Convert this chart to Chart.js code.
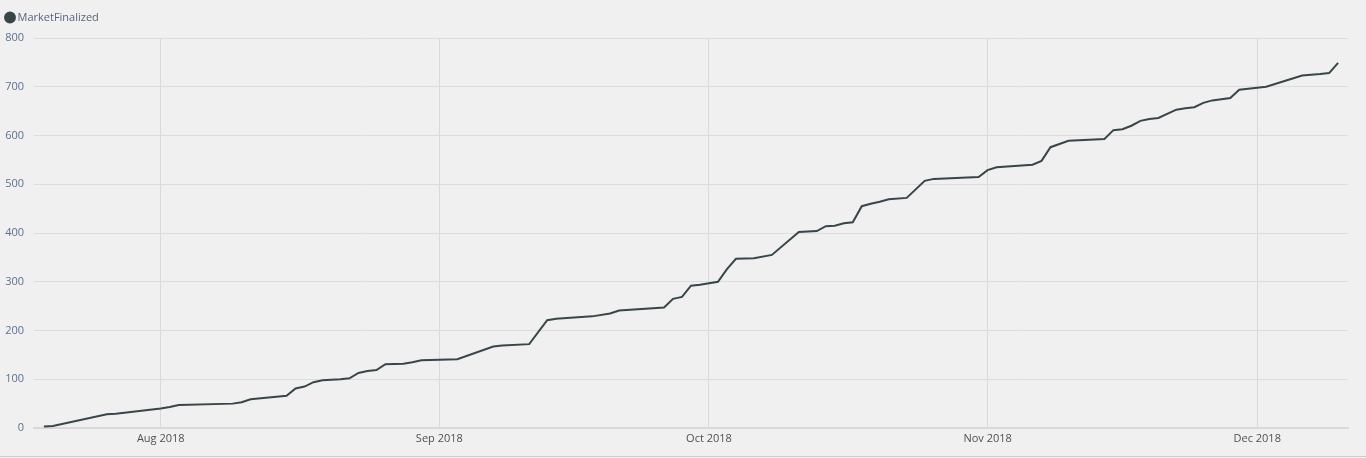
<!DOCTYPE html>
<html lang="en">
<head>
    <meta charset="UTF-8">
    <title>MarketFinalized</title>
    <style>
        html, body{
            margin: 0;
            padding: 0;
            background: #f0f0f0;
        }
        #wrap{
            width: 1366px;
            height: 456px;
            border-bottom: 1px solid #cccccc;
        }
    </style>
</head>
<body>
    <div id="wrap">
        <canvas id="grafik-market"></canvas>
    </div>

    <script src="https://cdn.jsdelivr.net/npm/chart.js"></script>

    <script>
        // dates of each point and the running count
        const tanggal = [
            '2018-07-19','2018-07-20','2018-07-26','2018-07-27','2018-08-01','2018-08-02','2018-08-03',
            '2018-08-09','2018-08-10','2018-08-11','2018-08-15','2018-08-16','2018-08-17','2018-08-18',
            '2018-08-19','2018-08-21','2018-08-22','2018-08-23','2018-08-24','2018-08-25','2018-08-26',
            '2018-08-28','2018-08-29','2018-08-30','2018-09-03','2018-09-07','2018-09-08','2018-09-11',
            '2018-09-13','2018-09-14','2018-09-18','2018-09-20','2018-09-21','2018-09-26','2018-09-27',
            '2018-09-28','2018-09-29','2018-09-30','2018-10-02','2018-10-03','2018-10-04','2018-10-06',
            '2018-10-08','2018-10-11','2018-10-13','2018-10-14','2018-10-15','2018-10-16','2018-10-17',
            '2018-10-18','2018-10-19','2018-10-20','2018-10-21','2018-10-23','2018-10-25','2018-10-26',
            '2018-10-31','2018-11-01','2018-11-02','2018-11-06','2018-11-07','2018-11-08','2018-11-10',
            '2018-11-14','2018-11-15','2018-11-16','2018-11-17','2018-11-18','2018-11-19','2018-11-20',
            '2018-11-22','2018-11-23','2018-11-24','2018-11-25','2018-11-26','2018-11-28','2018-11-29',
            '2018-11-30','2018-12-02','2018-12-06','2018-12-08','2018-12-09','2018-12-10'
        ]
        const marketFinalized = [
            3, 4, 28, 29, 40, 43, 47,
            50, 53, 59, 66, 81, 85, 94,
            98, 100, 102, 113, 117, 119, 131,
            132, 135, 139, 141, 167, 169, 172,
            221, 224, 229, 235, 241, 247, 265,
            269, 292, 294, 300, 326, 347, 348,
            355, 402, 404, 414, 415, 420, 422,
            455, 460, 464, 469, 472, 507, 511,
            515, 529, 535, 540, 548, 576, 589,
            593, 611, 613, 620, 630, 634, 636,
            653, 656, 658, 667, 672, 677, 694,
            696, 700, 723, 726, 728, 749
        ]

        const bulanTick = ['2018-08-01','2018-09-01','2018-10-01','2018-11-01','2018-12-01']
        const bulanLabel = ['Aug 2018','Sep 2018','Oct 2018','Nov 2018','Dec 2018']
        const nilaiTick = [0, 100, 200, 300, 400, 500, 600, 700, 800]

        // day number counted from 1 Aug 2018
        function hari(s){
            const p = s.split('-')
            return (Date.UTC(+p[0], +p[1] - 1, +p[2]) - Date.UTC(2018, 7, 1)) / 864e5
        }

        const points = tanggal.map((t, i) => ({x: hari(t), y: marketFinalized[i]}))
        const tickHari = bulanTick.map(hari)

        const fontUI = "'Segoe UI', 'Open Sans', sans-serif"

        // push the plot a bit further below the legend
        const legendGap = {
            id: 'legendGap',
            beforeInit(chart){
                const fit = chart.legend.fit
                chart.legend.fit = function(){
                    fit.call(this)
                    this.height += 5
                }
            }
        }

        new Chart(document.getElementById('grafik-market'), {
            type: 'line',
            data: {
                datasets: [{
                    label: 'MarketFinalized',
                    data: points,
                    borderColor: '#374649',
                    backgroundColor: '#374649',
                    borderWidth: 2,
                    pointRadius: 0,
                    pointHoverRadius: 0,
                    tension: 0,
                    pointStyle: 'circle'
                }]
            },
            options: {
                responsive: true,
                maintainAspectRatio: false,
                animation: false,
                layout: {
                    padding: {top: 4, left: 0, right: 18, bottom: 0}
                },
                plugins: {
                    legend: {
                        align: 'start',
                        labels: {
                            usePointStyle: true,
                            boxHeight: 7,
                            boxWidth: 4,
                            padding: 8,
                            color: '#56657a',
                            font: {family: fontUI, size: 11}
                        }
                    },
                    tooltip: {enabled: false}
                },
                scales: {
                    x: {
                        type: 'linear',
                        min: -14.1,
                        max: 132.1,
                        afterBuildTicks: s => {
                            s.ticks = tickHari.map(v => ({value: v}))
                        },
                        afterFit: s => {
                            s.height = 28
                        },
                        ticks: {
                            autoSkip: false,
                            maxRotation: 0,
                            padding: 4,
                            color: '#505050',
                            font: {family: fontUI, size: 11},
                            callback: (v) => bulanLabel[tickHari.indexOf(v)]
                        },
                        grid: {
                            color: '#d9d9d9',
                            drawTicks: false
                        },
                        border: {
                            color: '#d9d9d9',
                            width: 2
                        }
                    },
                    y: {
                        min: 0,
                        max: 800,
                        afterBuildTicks: s => {
                            s.ticks = nilaiTick.map(v => ({value: v}))
                        },
                        afterFit: s => {
                            s.width = 34
                        },
                        ticks: {
                            padding: 10,
                            color: '#5b7290',
                            font: {family: fontUI, size: 11}
                        },
                        grid: {
                            color: '#dcdcdc',
                            drawTicks: false
                        },
                        border: {display: false}
                    }
                }
            },
            plugins: [legendGap]
        });
    </script>
</body>
</html>
